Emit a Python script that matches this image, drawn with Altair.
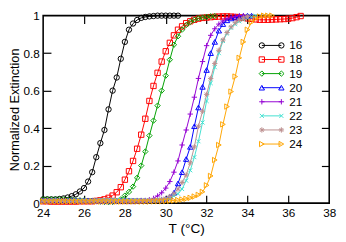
import altair as alt
import pandas as pd

temps = [24.0, 24.2, 24.4, 24.6, 24.8, 25.0, 25.2, 25.4, 25.6, 25.8,
         26.0, 26.2, 26.4, 26.6, 26.8, 27.0, 27.2, 27.4, 27.6, 27.8,
         28.0, 28.2, 28.4, 28.6, 28.8, 29.0, 29.2, 29.4, 29.6, 29.8,
         30.0, 30.2, 30.4, 30.6, 30.8, 31.0, 31.2, 31.4, 31.6, 31.8,
         32.0, 32.2, 32.4, 32.6, 32.8, 33.0, 33.2, 33.4, 33.6, 33.8,
         34.0, 34.2, 34.4, 34.6, 34.8, 35.0, 35.2, 35.4, 35.6, 35.8,
         36.0, 36.2, 36.4, 36.6]

labels = ["16", "18", "19", "20", "21", "22", "23", "24"]
colors = ["#000000", "#ff0000", "#00a000", "#0000ff", "#9400d3", "#40e0d0", "#bc8f8f", "#ffa500"]
shapes = ["circle", "square", "diamond", "triangle-up",
          "M-1,0L1,0M0,-1L0,1",
          "M-0.75,-0.75L0.75,0.75M-0.75,0.75L0.75,-0.75",
          "M-1,0L1,0M0,-1L0,1M-0.7,-0.7L0.7,0.7M-0.7,0.7L0.7,-0.7",
          "triangle-right"]

x_ticks = [24, 26, 28, 30, 32, 34, 36, 38]
inner_x_ticks = [26, 28, 30, 32, 34, 36]
y_ticks = [0, 0.2, 0.4, 0.6, 0.8, 1]
inner_y_ticks = [0.2, 0.4, 0.6, 0.8]

y16 = [0.02, 0.02, 0.02, 0.02, 0.022, 0.025, 0.03, 0.037, 0.047, 0.062,
       0.08, 0.115, 0.165, 0.245, 0.32,
       0.39, 0.50, 0.60, 0.67, 0.77,
       0.86, 0.925, 0.958, 0.977, 0.988,
       0.993, 0.996, 0.998, 1.0, 1.0,
       1.0, 1.0, 1.0, 1.0]
y18 = [0.01, 0.01, 0.008, 0.008, 0.008, 0.008, 0.008, 0.008, 0.008, 0.01,
       0.01, 0.01, 0.01, 0.012, 0.015,
       0.02, 0.028, 0.04, 0.058, 0.085,
       0.125, 0.17, 0.225, 0.29, 0.365,
       0.45, 0.545, 0.625, 0.695, 0.755,
       0.81, 0.855, 0.895, 0.925, 0.943,
       0.96, 0.97, 0.978, 0.984, 0.988,
       0.99, 0.992, 0.994, 0.995, 0.996,
       0.996, 0.995, 0.993, 0.99, 0.988,
       0.985, 0.983, 0.98, 0.978, 0.978,
       0.978, 0.979, 0.98, 0.981, 0.982,
       0.984, 0.987, 0.992, 0.998]
y19 = [0.02, 0.02, 0.02, 0.02, 0.02, 0.02, 0.018, 0.018, 0.016, 0.015,
       0.015, 0.013, 0.012, 0.01, 0.008,
       0.006, 0.005, 0.006, 0.01, 0.02,
       0.04, 0.06, 0.088, 0.135, 0.2,
       0.275, 0.36, 0.44, 0.52, 0.6,
       0.68, 0.765, 0.845, 0.89, 0.925,
       0.95, 0.966, 0.978, 0.986, 0.99,
       0.994, 0.997, 0.998]
y20 = [0.015, 0.014, 0.015, 0.016, 0.015, 0.014, 0.015, 0.016, 0.015, 0.014,
       0.015, 0.015, 0.014, 0.013, 0.012,
       0.012, 0.012, 0.013, 0.014, 0.015,
       0.015, 0.015, 0.014, 0.014, 0.015,
       0.015, 0.015, 0.016, 0.016, 0.018,
       0.025, 0.034, 0.055, 0.105, 0.165,
       0.235, 0.30, 0.41, 0.51, 0.62,
       0.71, 0.80, 0.86, 0.92, 0.955,
       0.975, 0.985, 0.99, 0.995, 0.998,
       1.0, 1.0]
y21 = [0.008, 0.008, 0.008, 0.008, 0.008, 0.008, 0.008, 0.008, 0.008, 0.008,
       0.008, 0.008, 0.008, 0.008, 0.008,
       0.008, 0.008, 0.008, 0.008, 0.008,
       0.008, 0.008, 0.008, 0.009, 0.01,
       0.012, 0.018, 0.025, 0.038, 0.055,
       0.08, 0.115, 0.165, 0.225, 0.31,
       0.39, 0.475, 0.565, 0.665, 0.755,
       0.84, 0.895, 0.93, 0.955, 0.972,
       0.985, 0.992, 0.996, 1.0, 1.0]
y22 = [0.015, 0.015, 0.016, 0.016, 0.015, 0.014, 0.014, 0.015, 0.015, 0.016,
       0.016, 0.015, 0.015, 0.016, 0.017,
       0.017, 0.018, 0.018, 0.018, 0.017,
       0.017, 0.017, 0.016, 0.016, 0.015,
       0.015, 0.015, 0.015, 0.016, 0.018,
       0.022, 0.028, 0.038, 0.05, 0.075,
       0.12, 0.175, 0.245, 0.33, 0.43,
       0.545, 0.64, 0.725, 0.80, 0.865,
       0.905, 0.935, 0.955, 0.97, 0.98,
       0.988, 0.994, 0.998]
y23 = [0.012, 0.012, 0.012, 0.013, 0.013, 0.013, 0.012, 0.012, 0.012, 0.012,
       0.012, 0.012, 0.013, 0.013, 0.013,
       0.013, 0.013, 0.013, 0.013, 0.013,
       0.013, 0.013, 0.013, 0.014, 0.014,
       0.014, 0.015, 0.016, 0.018, 0.02,
       0.025, 0.035, 0.05, 0.075, 0.11,
       0.15, 0.215, 0.30, 0.41, 0.49,
       0.58, 0.665, 0.745, 0.815, 0.87,
       0.91, 0.94, 0.962, 0.977, 0.988,
       0.995]
y24 = [0.008, 0.008, 0.008, 0.008, 0.008, 0.008, 0.008, 0.008, 0.008, 0.008,
       0.008, 0.008, 0.008, 0.008, 0.008,
       0.008, 0.008, 0.008, 0.008, 0.008,
       0.008, 0.008, 0.008, 0.008, 0.008,
       0.008, 0.008, 0.009, 0.01, 0.01,
       0.011, 0.012, 0.014, 0.016, 0.019,
       0.023, 0.028, 0.035, 0.044, 0.06,
       0.095, 0.145, 0.23, 0.31, 0.42,
       0.515, 0.595, 0.675, 0.775, 0.86,
       0.925, 0.965, 0.985, 0.995, 1.0,
       1.0, 1.0]

series = {"16": y16, "18": y18, "19": y19, "20": y20,
          "21": y21, "22": y22, "23": y23, "24": y24}

rows = []
for lab in labels:
    for t, v in zip(temps, series[lab]):
        rows.append({"T": t, "E": v, "len": lab})
df = pd.DataFrame(rows)
leg = pd.DataFrame({"len": labels})

W, H = 293, 192
FONT = "Liberation Sans"
xs = alt.Scale(domain=[24, 38], nice=False, zero=False)
ys = alt.Scale(domain=[0, 1], nice=False, zero=False)
col = alt.Color("len:N", scale=alt.Scale(domain=labels, range=colors), legend=None)
shp = alt.Shape("len:N", scale=alt.Scale(domain=labels, range=shapes), legend=None)

base = alt.Chart(df)

lines = base.mark_line(strokeWidth=1).encode(
    x=alt.X("T:Q", scale=xs, axis=alt.Axis(orient="bottom", values=x_ticks, format="d",
                                           ticks=False, domain=False, grid=False,
                                           labelFlush=False, labelPadding=5,
                                           titlePadding=3, titleFontSize=14,
                                           title="T (°C)")),
    y=alt.Y("E:Q", scale=ys, axis=alt.Axis(orient="left", values=y_ticks, format=".1~f",
                                           ticks=False, domain=False, grid=False,
                                           labelPadding=4, titlePadding=2,
                                           title="Normalized Extinction")),
    color=col, detail="len:N")

points = base.mark_point(filled=False, size=30, strokeWidth=1, opacity=1).encode(
    x=alt.X("T:Q", scale=xs, axis=None),
    y=alt.Y("E:Q", scale=ys, axis=None),
    color=col, shape=shp)

axes_a = base.mark_point(opacity=0).encode(
    x=alt.X("T:Q", scale=xs, axis=alt.Axis(orient="top", offset=-H, values=inner_x_ticks,
                                           labels=False, domain=False, grid=False,
                                           tickSize=8, title="")),
    y=alt.Y("E:Q", scale=ys, axis=alt.Axis(orient="right", offset=-W, values=inner_y_ticks,
                                           labels=False, domain=False, grid=False,
                                           tickSize=8, title="")))

axes_b = base.mark_point(opacity=0).encode(
    x=alt.X("T:Q", scale=xs, axis=alt.Axis(orient="bottom", offset=-H, values=inner_x_ticks,
                                           labels=False, domain=False, grid=False,
                                           tickSize=8, title="")),
    y=alt.Y("E:Q", scale=ys, axis=alt.Axis(orient="left", offset=-W, values=inner_y_ticks,
                                           labels=False, domain=False, grid=False,
                                           tickSize=8, title="")))

ly = alt.Y("len:N", scale=alt.Scale(type="point", domain=labels, range=[30.5, 131.5], padding=0),
           axis=None)
lbase = alt.Chart(leg)
leg_line = lbase.mark_rule(strokeWidth=1).encode(
    x=alt.value(224), x2=alt.value(244), y=ly, color=col)
leg_p1 = lbase.mark_point(filled=False, size=30, strokeWidth=1, opacity=1).encode(
    x=alt.value(224), y=ly, color=col, shape=shp)
leg_p2 = lbase.mark_point(filled=False, size=30, strokeWidth=1, opacity=1).encode(
    x=alt.value(244), y=ly, color=col, shape=shp)
leg_txt = lbase.mark_text(align="left", baseline="middle", fontSize=12, font=FONT,
                          color="black").encode(x=alt.value(252), y=ly, text="len:N")

chart = alt.layer(lines, points, axes_a, axes_b, leg_line, leg_p1, leg_p2, leg_txt).resolve_scale(
    y="independent"
).resolve_axis(
    x="independent", y="independent"
).properties(
    width=W, height=H,
    autosize=alt.AutoSizeParams(type="none"),
    padding={"left": 36, "top": 5, "right": 9, "bottom": 37},
).configure_view(
    stroke="black", strokeWidth=1.6
).configure_axis(
    labelFont=FONT, titleFont=FONT, labelFontSize=12, titleFontSize=13,
    titleFontWeight="normal", labelColor="black", titleColor="black",
    tickColor="black", tickWidth=1.2
)

chart.save("out.html", embed_options={"renderer": "svg", "actions": False})
